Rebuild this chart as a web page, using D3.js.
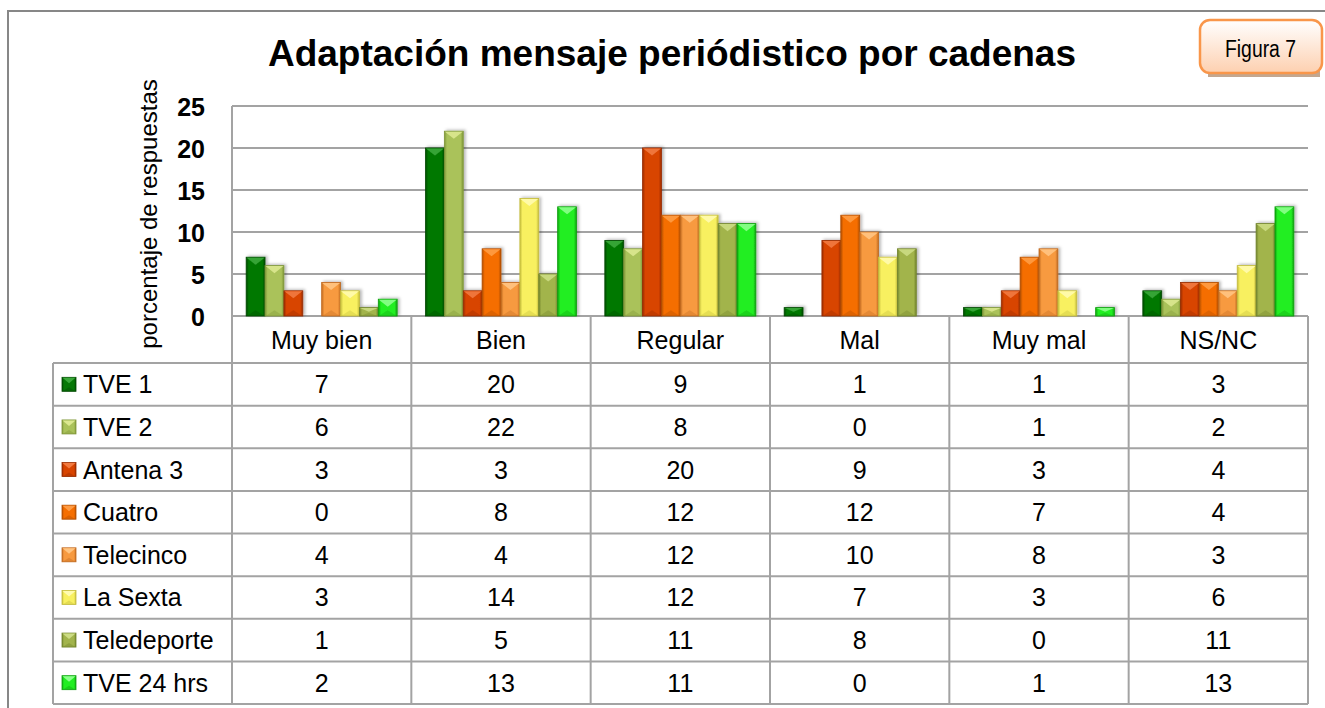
<!DOCTYPE html>
<meta charset="utf-8">
<body style="margin:0;background:#fff">
<div id="div-svg"></div>
<script src="https://cdn.jsdelivr.net/npm/d3@7"></script>
<script>
    // datos
    var categories = ["Muy bien", "Bien", "Regular", "Mal", "Muy mal", "NS/NC"];
    var seriesNames = ["TVE 1", "TVE 2", "Antena 3", "Cuatro", "Telecinco", "La Sexta", "Teledeporte", "TVE 24 hrs"];
    var tve1 = [7, 20, 9, 1, 1, 3];
    var tve2 = [6, 22, 8, 0, 1, 2];
    var antena3 = [3, 3, 20, 9, 3, 4];
    var cuatro = [0, 8, 12, 12, 7, 4];
    var telecinco = [4, 4, 12, 10, 8, 3];
    var laSexta = [3, 14, 12, 7, 3, 6];
    var teledeporte = [1, 5, 11, 8, 0, 11];
    var tve24 = [2, 13, 11, 0, 1, 13];
    var yTicks = [0, 5, 10, 15, 20, 25];

    var seriesValues = [tve1, tve2, antena3, cuatro, telecinco, laSexta, teledeporte, tve24];
    // base, light, dark
    var colors = [
      ["#067806", "#3aa83a", "#024a02"],
      ["#aac25a", "#dce890", "#7f9638"],
      ["#d84400", "#f27a40", "#982c00"],
      ["#f56e00", "#ff9c44", "#b24e00"],
      ["#f79a40", "#ffc482", "#c06a20"],
      ["#f8f060", "#fffbb0", "#c4bc3c"],
      ["#a2b44c", "#ccdc84", "#72842c"],
      ["#22ee22", "#8cff8c", "#10a010"]
    ];

    var width = 1325, height = 708;
    var left = 232, right = 1308, top0 = 106, base = 316;
    var legendLeft = 53, headerBottom = 363, tableBottom = 704;
    var font = "Liberation Sans, Arial, sans-serif";
    var gridColor = "#a3a3a3";

    var svg = d3.select("#div-svg").append("svg")
        .attr("width", width)
        .attr("height", height)
        .style("font-family", font);

    var defs = svg.append("defs");
    defs.append("filter").attr("id", "shadow")
        .attr("x", "-30%").attr("y", "-30%").attr("width", "160%").attr("height", "160%")
      .append("feDropShadow")
        .attr("dx", 2).attr("dy", -1).attr("stdDeviation", 1.5)
        .attr("flood-color", "#000").attr("flood-opacity", 0.28);

    colors.forEach(function(c, i) {
      var g = defs.append("linearGradient").attr("id", "grad" + i)
          .attr("x1", 0).attr("x2", 1).attr("y1", 0).attr("y2", 0);
      g.append("stop").attr("offset", "0%").attr("stop-color", c[2]);
      g.append("stop").attr("offset", "14%").attr("stop-color", c[0]);
      g.append("stop").attr("offset", "86%").attr("stop-color", c[0]);
      g.append("stop").attr("offset", "100%").attr("stop-color", c[2]);
    });

    var fig = defs.append("linearGradient").attr("id", "figGrad")
        .attr("x1", 0).attr("x2", 0).attr("y1", 0).attr("y2", 1);
    fig.append("stop").attr("offset", "0%").attr("stop-color", "#ffffff");
    fig.append("stop").attr("offset", "100%").attr("stop-color", "#fdd0b0");

    // marco exterior
    svg.append("rect")
        .attr("x", 8).attr("y", 11)
        .attr("width", 1340).attr("height", 740)
        .attr("fill", "none")
        .attr("stroke", "#878787")
        .attr("stroke-width", 2);

    // titulo
    svg.append("text")
        .attr("x", 672).attr("y", 66)
        .attr("text-anchor", "middle")
        .style("font-size", "37px")
        .style("font-weight", "bold")
        .text("Adaptación mensaje periódistico por cadenas");

    // caja Figura 7
    svg.append("rect")
        .attr("x", 1208).attr("y", 70).attr("width", 112).attr("height", 7)
        .attr("fill", "#b8987c").attr("opacity", 0.85);
    svg.append("rect")
        .attr("x", 1200).attr("y", 20).attr("width", 122).attr("height", 53)
        .attr("rx", 10)
        .attr("fill", "url(#figGrad)")
        .attr("stroke", "#f9964a")
        .attr("stroke-width", 2.5);
    svg.append("text")
        .attr("x", 1225).attr("y", 57)
        .attr("textLength", 71)
        .attr("lengthAdjust", "spacingAndGlyphs")
        .style("font-size", "23px")
        .text("Figura 7");

    // escalas
    var y = d3.scaleLinear().domain([0, 25]).range([base, top0]);
    var x0 = d3.scaleBand().domain(categories).range([left, right]);
    var x1 = d3.scaleBand().domain(seriesNames).range([0, x0.bandwidth()]).paddingOuter(0.75);

    // lineas de division
    svg.append("g").selectAll("line")
      .data(yTicks)
      .enter().append("line")
        .attr("x1", left).attr("x2", right)
        .attr("y1", function(d) { return y(d); })
        .attr("y2", function(d) { return y(d); })
        .attr("stroke", gridColor)
        .attr("stroke-width", 2);

    svg.append("line")
        .attr("x1", left).attr("x2", left)
        .attr("y1", top0).attr("y2", tableBottom)
        .attr("stroke", gridColor).attr("stroke-width", 2);

    // eje y
    var yAxis = d3.axisLeft(y).tickValues(yTicks).tickSize(0).tickPadding(0);
    var ya = svg.append("g").attr("transform", "translate(205,0)").call(yAxis);
    ya.select(".domain").remove();
    ya.selectAll("text")
        .style("font-family", font)
        .style("font-size", "25px")
        .style("font-weight", "bold")
        .attr("fill", "#000")
        .attr("dy", "0.36em");

    svg.append("text")
        .attr("transform", "translate(157,214) rotate(-90)")
        .attr("text-anchor", "middle")
        .style("font-size", "24px")
        .text("porcentaje de respuestas");

    // barras
    var groups = svg.append("g").selectAll("g")
      .data(seriesNames)
      .enter().append("g")
        .attr("filter", "url(#shadow)");

    groups.each(function(name, si) {
      var g = d3.select(this);
      var c = colors[si];
      var pts = categories.map(function(cat, ci) {
        return { x: x0(cat) + x1(name), w: x1.bandwidth(), v: seriesValues[si][ci] };
      }).filter(function(d) { return d.v > 0; });

      g.selectAll("rect").data(pts).enter().append("rect")
          .attr("x", function(d) { return d.x; })
          .attr("y", function(d) { return y(d.v); })
          .attr("width", function(d) { return d.w; })
          .attr("height", function(d) { return base - y(d.v); })
          .attr("fill", "url(#grad" + si + ")")
          .attr("stroke", c[2])
          .attr("stroke-width", 0.8);

      // bisel superior
      g.selectAll("polygon.top").data(pts).enter().append("polygon")
          .attr("class", "top")
          .attr("points", function(d) {
            var yt = y(d.v), t = Math.min(d.w * 0.4, (base - yt) * 0.5);
            return [[d.x + 0.5, yt + 0.5], [d.x + d.w - 0.5, yt + 0.5], [d.x + d.w / 2, yt + t]].join(" ");
          })
          .attr("fill", c[1])
          .attr("opacity", 0.9);

      // bisel inferior
      g.selectAll("polygon.bot").data(pts).enter().append("polygon")
          .attr("class", "bot")
          .attr("points", function(d) {
            var yt = y(d.v), t = Math.min(d.w * 0.3, (base - yt) * 0.4);
            return [[d.x + 0.5, base], [d.x + d.w - 0.5, base], [d.x + d.w / 2, base - t]].join(" ");
          })
          .attr("fill", c[2])
          .attr("opacity", 0.35);
    });

    // tabla de datos
    var rowH = (tableBottom - headerBottom) / seriesNames.length;
    var table = svg.append("g");

    table.selectAll("line.v")
      .data(categories.concat(["end"]))
      .enter().append("line")
        .attr("x1", function(d, i) { return left + i * x0.bandwidth(); })
        .attr("x2", function(d, i) { return left + i * x0.bandwidth(); })
        .attr("y1", base).attr("y2", tableBottom)
        .attr("stroke", gridColor).attr("stroke-width", 2);

    table.append("line")
        .attr("x1", legendLeft).attr("x2", legendLeft)
        .attr("y1", headerBottom).attr("y2", tableBottom)
        .attr("stroke", gridColor).attr("stroke-width", 2);

    table.selectAll("line.h")
      .data(d3.range(seriesNames.length + 1))
      .enter().append("line")
        .attr("x1", legendLeft).attr("x2", right)
        .attr("y1", function(i) { return headerBottom + i * rowH; })
        .attr("y2", function(i) { return headerBottom + i * rowH; })
        .attr("stroke", gridColor).attr("stroke-width", 2);

    table.selectAll("text.cat")
      .data(categories)
      .enter().append("text")
        .attr("x", function(d) { return x0(d) + x0.bandwidth() / 2; })
        .attr("y", (base + headerBottom) / 2)
        .attr("dy", "0.36em")
        .attr("text-anchor", "middle")
        .style("font-size", "25px")
        .text(function(d) { return d; });

    seriesNames.forEach(function(name, si) {
      var cy = headerBottom + si * rowH + rowH / 2;
      var c = colors[si];
      var m = table.append("g").attr("transform", "translate(62," + (cy - 7) + ")");
      m.append("rect").attr("width", 14).attr("height", 14)
          .attr("fill", "url(#grad" + si + ")").attr("stroke", c[2]).attr("stroke-width", 0.8);
      m.append("polygon").attr("points", "0.5,0.5 13.5,0.5 7,6").attr("fill", c[1]);
      m.append("polygon").attr("points", "0.5,14 13.5,14 7,10").attr("fill", c[2]).attr("opacity", 0.4);

      table.append("text")
          .attr("x", 83).attr("y", cy)
          .attr("dy", "0.36em")
          .style("font-size", "25px")
          .text(name);

      table.selectAll("text.v" + si)
        .data(seriesValues[si])
        .enter().append("text")
          .attr("x", function(d, i) { return x0(categories[i]) + x0.bandwidth() / 2; })
          .attr("y", cy)
          .attr("dy", "0.36em")
          .attr("text-anchor", "middle")
          .style("font-size", "25px")
          .text(function(d) { return d; });
    });
</script>
</body>
